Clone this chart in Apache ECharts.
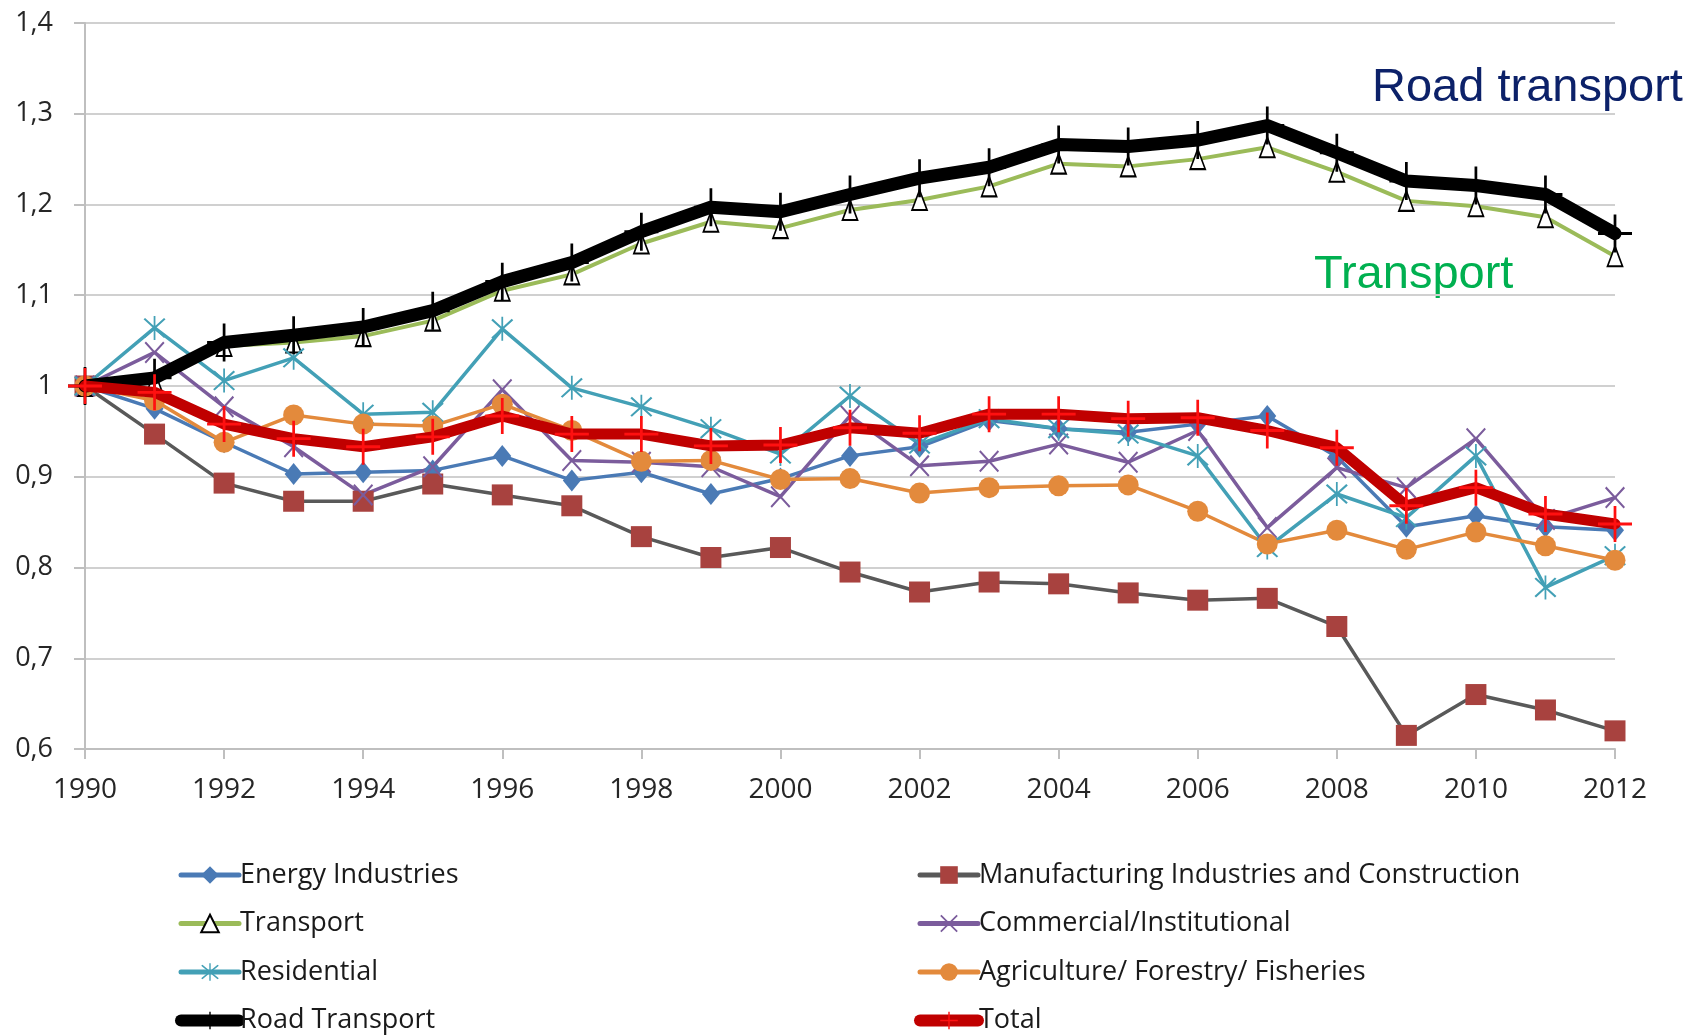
<!DOCTYPE html>
<html>
<head>
<meta charset="utf-8">
<script src="https://cdn.jsdelivr.net/npm/echarts@6/dist/echarts.min.js"></script>
<style>
  html, body { margin: 0; padding: 0; background: #fff; }
  #main { width: 1703px; height: 1035px; }
</style>
</head>
<body>
<div id="main"></div>
<script>
// years on the x axis
var years = ["1990", "1991", "1992", "1993", "1994", "1995", "1996", "1997", "1998", "1999", "2000",
    "2001", "2002", "2003", "2004", "2005", "2006", "2007", "2008", "2009", "2010", "2011", "2012"];

// index values (1990 = 1)
var energy = [1.000, 0.975, 0.938, 0.903, 0.905, 0.907, 0.923, 0.896, 0.905, 0.881, 0.898, 0.923,
    0.933, 0.962, 0.953, 0.949, 0.958, 0.967, 0.922, 0.845, 0.857, 0.845, 0.841];
var manufacturing = [1.000, 0.947, 0.893, 0.873, 0.873, 0.892, 0.880, 0.868, 0.834, 0.811, 0.822, 0.795,
    0.773, 0.784, 0.782, 0.772, 0.764, 0.766, 0.735, 0.615, 0.660, 0.643, 0.620];
var transport = [1.000, 1.005, 1.044, 1.048, 1.055, 1.072, 1.105, 1.123, 1.157, 1.181, 1.174, 1.194,
    1.205, 1.220, 1.245, 1.242, 1.250, 1.263, 1.236, 1.204, 1.198, 1.186, 1.143];
var commercial = [1.000, 1.037, 0.977, 0.933, 0.880, 0.911, 0.996, 0.918, 0.916, 0.911, 0.878, 0.967,
    0.912, 0.917, 0.936, 0.916, 0.951, 0.844, 0.910, 0.888, 0.942, 0.853, 0.877];
var residential = [1.000, 1.064, 1.006, 1.031, 0.969, 0.971, 1.063, 0.998, 0.977, 0.953, 0.925, 0.989,
    0.936, 0.964, 0.953, 0.947, 0.923, 0.822, 0.881, 0.855, 0.923, 0.778, 0.813];
var agriculture = [1.000, 0.984, 0.938, 0.968, 0.958, 0.956, 0.980, 0.951, 0.917, 0.918, 0.897, 0.898,
    0.882, 0.888, 0.890, 0.891, 0.862, 0.826, 0.841, 0.820, 0.839, 0.824, 0.808];
var roadTransport = [1.000, 1.009, 1.048, 1.056, 1.065, 1.083, 1.115, 1.136, 1.170, 1.197, 1.192, 1.211,
    1.229, 1.241, 1.266, 1.264, 1.271, 1.287, 1.257, 1.226, 1.221, 1.211, 1.168];
var total = [1.000, 0.993, 0.958, 0.942, 0.933, 0.944, 0.967, 0.947, 0.947, 0.934, 0.935, 0.954,
    0.948, 0.969, 0.969, 0.964, 0.965, 0.951, 0.932, 0.868, 0.888, 0.859, 0.848];

// marker shapes (excel style)
var plusPath = "path://M9.2,0h1.6v20h-1.6z M0,9.2h20v1.6h-20z";
var crossPath = "path://M0,1.4L1.4,0L20,18.6L18.6,20Z M18.6,0L20,1.4L1.4,20L0,18.6Z";
var starPath = "path://M0,1.4L1.4,0L20,18.6L18.6,20Z M18.6,0L20,1.4L1.4,20L0,18.6Z M9.2,-2h1.6v24h-1.6z";

var font = "Open Sans";

function lineSeries(name, data, lineColor, width, symbol, size, itemStyle, z) {
    return {
        name: name,
        type: "line",
        data: data,
        symbol: symbol,
        symbolSize: size,
        showAllSymbol: true,
        z: z,
        lineStyle: { color: lineColor, width: width, join: "round", cap: "round" },
        itemStyle: itemStyle,
        emphasis: { disabled: true }
    };
}

function legendCol(left, names, widths) {
    return {
        orient: "vertical",
        left: left,
        top: 861,
        height: 174,
        padding: 0,
        itemWidth: 58,
        itemHeight: 22,
        itemGap: 20.5,
        selectedMode: false,
        textStyle: { fontSize: 27, fontFamily: font, color: "#1a1a1a", lineHeight: 28, padding: [0, 0, 0, -4] },
        data: names.map(function (n, i) {
            return { name: n, lineStyle: { width: widths[i], cap: "round" } };
        })
    };
}

var myChart = echarts.init(document.getElementById("main"));
var option = {
    animation: false,
    backgroundColor: "#fff",
    grid: { left: 85, right: 88, top: 23, bottom: 286 },
    xAxis: {
        type: "category",
        data: years,
        boundaryGap: false,
        axisLine: { lineStyle: { color: "#bfbfbf", width: 2 } },
        axisTick: { show: true, length: 10, interval: 1, lineStyle: { color: "#bfbfbf", width: 2 } },
        axisLabel: { interval: 1, margin: 27, fontSize: 28, fontFamily: font, color: "#262626" },
        splitLine: { show: false }
    },
    yAxis: {
        type: "value",
        min: 0.6,
        max: 1.4,
        interval: 0.1,
        axisLine: { show: true, lineStyle: { color: "#bfbfbf", width: 2 } },
        axisTick: { show: true, length: 11, lineStyle: { color: "#bfbfbf", width: 2 } },
        axisLabel: {
            margin: 32, fontSize: 27, fontFamily: font, color: "#262626",
            formatter: function (v) {
                var r = Math.round(v * 10) / 10;
                return r === 1 ? "1" : r.toFixed(1).replace(".", ",");
            }
        },
        splitLine: { lineStyle: { color: "#d0d0d0", width: 2 } }
    },
    legend: [
        legendCol(175, ["Energy Industries", "Transport", "Residential", "Road Transport"], [5, 5, 5, 12]),
        legendCol(914, ["Manufacturing Industries and Construction", "Commercial/Institutional",
            "Agriculture/ Forestry/ Fisheries", "Total"], [5, 5, 5, 12])
    ],
    graphic: [{
        type: "text",
        x: 1372,
        y: 88,
        style: { text: "Road transport", font: '47px "Liberation Sans"', fill: "#0c2169", verticalAlign: "middle" }
    }, {
        type: "text",
        x: 1314,
        y: 275,
        style: { text: "Transport", font: '47px "Liberation Sans"', fill: "#00b050", verticalAlign: "middle" }
    }],
    series: [
        lineSeries("Energy Industries", energy, "#4a7ab5", 3.5, "diamond", [18, 22],
            { color: "#4a7ab5" }, 2),
        lineSeries("Manufacturing Industries and Construction", manufacturing, "#595959", 3.5, "rect", [21, 21],
            { color: "#a8423f" }, 2),
        lineSeries("Transport", transport, "#9bbb59", 4, "triangle", [15, 20],
            { color: "#ffffff", borderColor: "#000000", borderWidth: 1.8 }, 2),
        lineSeries("Commercial/Institutional", commercial, "#7b5c9c", 3.5, crossPath, [20, 22],
            { color: "#7b5c9c" }, 2),
        lineSeries("Residential", residential, "#43a0b6", 3.5, starPath, [22, 24],
            { color: "#43a0b6" }, 2),
        lineSeries("Agriculture/ Forestry/ Fisheries", agriculture, "#e38a3c", 3.5, "circle", 21,
            { color: "#e38a3c" }, 2),
        lineSeries("Road Transport", roadTransport, "#000000", 13, plusPath, [34, 38],
            { color: "#000000" }, 3),
        lineSeries("Total", total, "#c00000", 11, plusPath, [34, 36],
            { color: "#ff1010" }, 4)
    ]
};
myChart.setOption(option);
</script>
</body>
</html>
